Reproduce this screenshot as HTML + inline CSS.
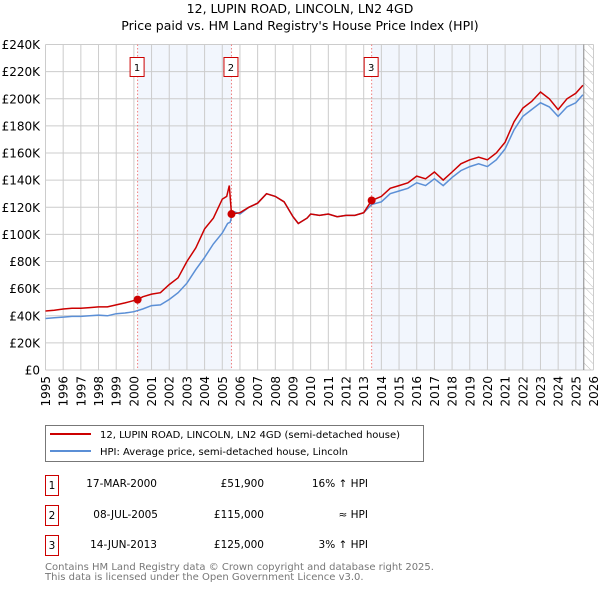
<!DOCTYPE html>
<html><head><meta charset="utf-8">
<style>
body{margin:0;background:#fff;font-family:"DejaVu Sans","Liberation Sans",sans-serif;}
svg text{font-family:"DejaVu Sans","Liberation Sans",sans-serif;}
</style></head>
<body>
<svg id="chart" width="600" height="590" xmlns="http://www.w3.org/2000/svg">
<defs>
<pattern id="hatch" width="6" height="6" patternUnits="userSpaceOnUse" patternTransform="rotate(-45)">
<line x1="0" y1="0" x2="0" y2="6" stroke="#bbb" stroke-width="1"/>
</pattern>
</defs>
<text x="300" y="13" text-anchor="middle" font-size="12.5">12, LUPIN ROAD, LINCOLN, LN2 4GD</text>
<text x="300" y="30" text-anchor="middle" font-size="12.5">Price paid vs. HM Land Registry's House Price Index (HPI)</text>
<g id="grid"></g>
<g id="marks"></g>
<g id="axes"></g>

<g>
<rect x="45.5" y="425.5" width="378" height="36" fill="#fff" stroke="#777"/>
<line x1="50" y1="434" x2="91" y2="434" stroke="#cc0000" stroke-width="2"/>
<text x="100" y="438" font-size="10">12, LUPIN ROAD, LINCOLN, LN2 4GD (semi-detached house)</text>
<line x1="50" y1="451" x2="91" y2="451" stroke="#5b8fd6" stroke-width="2"/>
<text x="100" y="455" font-size="10">HPI: Average price, semi-detached house, Lincoln</text>
</g>

<g font-size="10.5">
<rect x="45.5" y="475.5" width="13" height="20" fill="#fff" stroke="#cc0000"/>
<text x="52" y="489" text-anchor="middle">1</text>
<text x="157" y="487" text-anchor="end">17-MAR-2000</text>
<text x="264" y="487" text-anchor="end">£51,900</text>
<text x="368" y="487" text-anchor="end">16% ↑ HPI</text>

<rect x="45.5" y="505.5" width="13" height="20" fill="#fff" stroke="#cc0000"/>
<text x="52" y="519" text-anchor="middle">2</text>
<text x="158" y="518" text-anchor="end">08-JUL-2005</text>
<text x="264" y="518" text-anchor="end">£115,000</text>
<text x="368" y="518" text-anchor="end">≈ HPI</text>

<rect x="45.5" y="535.5" width="13" height="20" fill="#fff" stroke="#cc0000"/>
<text x="52" y="549" text-anchor="middle">3</text>
<text x="157" y="548" text-anchor="end">14-JUN-2013</text>
<text x="264" y="548" text-anchor="end">£125,000</text>
<text x="368" y="548" text-anchor="end">3% ↑ HPI</text>
</g>
<text x="45" y="570" font-size="10" fill="#777">Contains HM Land Registry data © Crown copyright and database right 2025.</text>
<text x="45" y="580" font-size="10" fill="#777">This data is licensed under the Open Government Licence v3.0.</text>
</svg>
<script>
const yTicks = [0,20,40,60,80,100,120,140,160,180,200,220,240];
const yearTicks = [1995,1996,1997,1998,1999,2000,2001,2002,2003,2004,2005,2006,2007,2008,2009,2010,2011,2012,2013,2014,2015,2016,2017,2018,2019,2020,2021,2022,2023,2024,2025,2026];
const hpiYears = [1995,1995.5,1996,1996.5,1997,1997.5,1998,1998.5,1999,1999.5,2000,2000.5,2001,2001.5,2002,2002.5,2003,2003.5,2004,2004.5,2005,2005.3,2005.45,2005.6,2006,2006.5,2007,2007.5,2008,2008.5,2009,2009.3,2009.8,2010,2010.5,2011,2011.5,2012,2012.5,2013,2013.45,2014,2014.5,2015,2015.5,2016,2016.5,2017,2017.5,2018,2018.5,2019,2019.5,2020,2020.5,2021,2021.5,2022,2022.5,2023,2023.5,2024,2024.5,2025,2025.4];
const hpiValues = [38,38.5,39,39.5,39.5,40,40.5,40,41.5,42,43,45,47.5,48,52,57,64,74,83,93,101,108,109,117,115,120,123,130,128,124,113,108,112,115,114,115,113,114,114,116,122,124,130,132,134,138,136,141,136,142,147,150,152,150,155,163,177,187,192,197,194,187,194,197,203];
const redYears = [1995,1995.5,1996,1996.5,1997,1997.5,1998,1998.5,1999,1999.5,2000.21,2000.5,2001,2001.5,2002,2002.5,2003,2003.5,2004,2004.5,2005,2005.25,2005.4,2005.52,2006,2006.5,2007,2007.5,2008,2008.5,2009,2009.3,2009.8,2010,2010.5,2011,2011.5,2012,2012.5,2013,2013.45,2014,2014.5,2015,2015.5,2016,2016.5,2017,2017.5,2018,2018.5,2019,2019.5,2020,2020.5,2021,2021.5,2022,2022.5,2023,2023.5,2024,2024.5,2025,2025.4];
const redValues = [43.5,44,45,45.5,45.5,46,46.5,46.5,48,49.5,51.9,54,56,57,63,68,80,90,104,112,126,128,136,115,116,120,123,130,128,124,113,108,112,115,114,115,113,114,114,116,125,128,134,136,138,143,141,146,140,146,152,155,157,155,160,168,183,193,198,205,200,192,200,204,210];
const saleYears = [2000.21,2005.52,2013.45];
const salePrices = [51.9,115,125];
const saleLabels = ["1","2","3"];

const X0=45.5, X1=593.5, Y0=370, Y1=44.5;
const xs = y => X0 + (y-1995)*(X1-X0)/31;
const ys = v => Y0 - v*(Y0-Y1)/240;
const NS="http://www.w3.org/2000/svg";
function mk(parent, tag, attrs){const e=document.createElementNS(NS,tag);for(const k in attrs)e.setAttribute(k,attrs[k]);parent.appendChild(e);return e;}
const grid=document.getElementById('grid'), marks=document.getElementById('marks'), axes=document.getElementById('axes');

let bg=mk(grid,'rect',{x:X0,y:Y1,width:X1-X0,height:Y0-Y1,fill:'#fff'});


let sh1=mk(grid,'rect',{x:xs(saleYears[0]),y:Y1,width:xs(saleYears[1])-xs(saleYears[0]),height:Y0-Y1,fill:'#f2f6fd'});


let sh2=mk(grid,'rect',{x:xs(saleYears[2]),y:Y1,width:xs(2025.45)-xs(saleYears[2]),height:Y0-Y1,fill:'#f2f6fd'});


let ht=mk(grid,'rect',{x:xs(2025.45),y:Y1,width:X1-xs(2025.45),height:Y0-Y1,fill:'url(#hatch)'});



yTicks.forEach(v=>{
  const l=mk(grid,'line',{x1:X0,x2:X1,y1:ys(v),y2:ys(v),stroke:'#ccc','stroke-width':1});
  
  
  const t=mk(axes,'text',{x:40,y:ys(v)+4.5,'text-anchor':'end','font-size':12});
  t.textContent = v===0?'£0':'£'+v+'K';
  
  
});
yearTicks.forEach(y=>{
  const l=mk(grid,'line',{x1:xs(y),x2:xs(y),y1:Y1,y2:Y0,stroke:'#ccc','stroke-width':1});
  
  
  const t=mk(axes,'text',{x:0,y:0,'text-anchor':'end','font-size':12,transform:`translate(${xs(y)+4.5},${Y0+6}) rotate(-90)`});
  t.textContent=y;
  
  
});
let vl=mk(grid,'line',{x1:xs(2025.45),x2:xs(2025.45),y1:Y1,y2:Y0,stroke:'#888','stroke-width':1});



saleYears.forEach((y,i)=>{
  const l=mk(marks,'line',{x1:xs(y),x2:xs(y),y1:Y1,y2:Y0,stroke:'#f08080','stroke-width':1,'stroke-dasharray':'1.5,2'});
  
  
  const r=mk(marks,'rect',{x:xs(y)-7.5,y:57.5,width:14,height:19,fill:'#fff',stroke:'#cc0000'});
  
  
  const t=mk(marks,'text',{x:xs(y)-0.5,y:71,'text-anchor':'middle','font-size':10});
  t.textContent=saleLabels[i];
  
  
});

const pts=(xa,va)=>xa.map((y,i)=>xs(y).toFixed(1)+','+ys(va[i]).toFixed(1)).join(' ');
let hp=mk(marks,'polyline',{points:pts(hpiYears,hpiValues),fill:'none',stroke:'#5b8fd6','stroke-width':1.5});


let rp=mk(marks,'polyline',{points:pts(redYears,redValues),fill:'none',stroke:'#cc0000','stroke-width':1.5});


saleYears.forEach((y,i)=>{
  const c=mk(marks,'circle',{cx:xs(y),cy:ys(salePrices[i]),r:4,fill:'#cc0000'});
  
  
});
</script>
</body></html>
